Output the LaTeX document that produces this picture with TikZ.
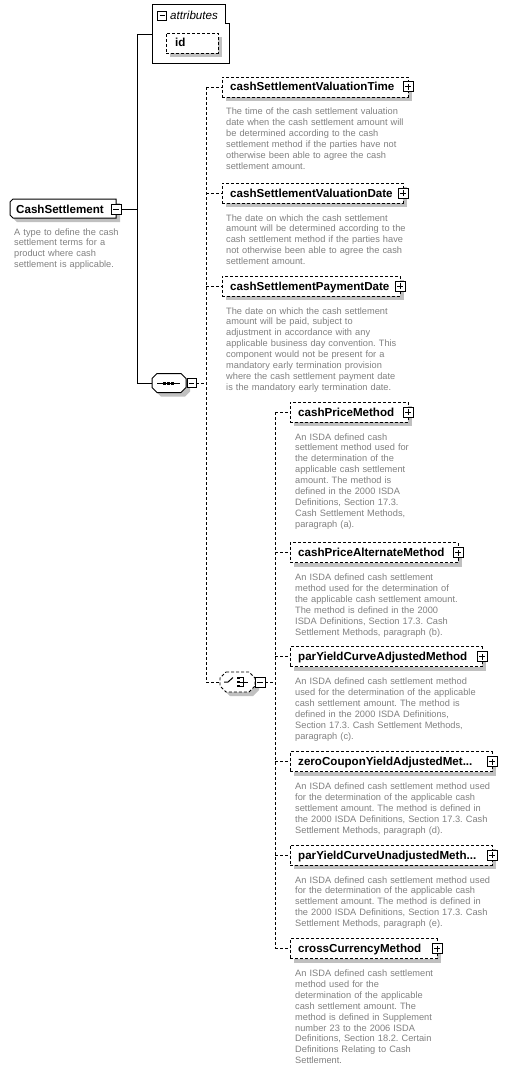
\documentclass[tikz,border=0pt]{standalone}
\usepackage{fontspec}
\setmainfont{Liberation Sans}
\definecolor{descgrey}{RGB}{128,128,128}
\definecolor{shgrey}{RGB}{192,192,192}
\tikzset{
  conn/.style={line width=1pt},
  dconn/.style={line width=0.9pt, dash pattern=on 3pt off 2pt},
  elbox/.style={draw, line width=0.9pt, dash pattern=on 3pt off 2pt, fill=white, minimum height=20pt, inner sep=0pt, outer sep=0pt},
  pmbox/.style={draw, line width=1pt, fill=white, minimum size=10pt, inner sep=0pt, outer sep=0pt},
  titletext/.style={font=\fontsize{11.6}{13}\selectfont\bfseries, anchor=base west, inner sep=0pt},
  desctext/.style={font=\fontsize{9.25}{10.9}\selectfont, text=descgrey, anchor=base west, inner sep=0pt, text width=230pt, align=left},
  anchorbox/.style={inner sep=0pt, outer sep=0pt}
}
\newcommand\elem[5]{%
  \fill[shgrey] (#2+4,#3-6) rectangle (#4+4,#3+14);
  \node[elbox, anchor=west, minimum width={(#4-#2)*1pt}] (#1) at (#2,#3) {};
  \node[pmbox] (#1p) at (#4,#3) {};
  \draw[line width=1pt] ([xshift=-3pt]#1p.center) -- ([xshift=3pt]#1p.center);
  \draw[line width=1pt] ([yshift=-3pt]#1p.center) -- ([yshift=3pt]#1p.center);
  \node[titletext] (#1t) at (#2+8,#3+4) {#5};
}
\begin{document}
\frenchspacing
\begin{tikzpicture}[x=1pt,y=-1pt]
\useasboundingbox (0,0) rectangle (506,1070);

% ---------- attributes box ----------
\node[anchorbox, minimum width=77pt, minimum height=59pt] (attr) at (190.5,34.5) {};
\draw[line width=1pt, fill=white] (152,5) -- (225,5) -- (225,24) -- (229,24) -- (229,64) -- (152,64) -- cycle;
\node[pmbox, minimum size=9pt] (attrm) at (162,16) {};
\draw[line width=1pt] ([xshift=-2.5pt]attrm.center) -- ([xshift=2.5pt]attrm.center);
\node[font=\fontsize{11.6}{12}\selectfont\itshape, anchor=base west, inner sep=0pt] (attrt) at (170,20) {attributes};
\fill[shgrey] (170,37) rectangle (222,57);
\node[elbox, minimum width=52pt] (idb) at (192,43) {};
\node[titletext] (idt) at (175,47) {id};

% ---------- CashSettlement ----------
\node[anchorbox, minimum width=106pt, minimum height=19pt] (cs) at (63,208.5) {};
\fill[shgrey] (17,203) -- (120,203) -- (120,222) -- (17,222) -- (14,219) -- (14,206) -- cycle;
\draw[line width=1pt, fill=white] (13,199) -- (116,199) -- (116,218) -- (13,218) -- (10,215) -- (10,202) -- cycle;
\node[pmbox] (csm) at (116,209) {};
\draw[line width=1pt] ([xshift=-3pt]csm.center) -- ([xshift=3pt]csm.center);
\node[titletext] (cst) at (16,213) {CashSettlement};
\node[desctext] (csd) at (14,235) {A type to define the cash\\settlement terms for a\\product where cash\\settlement is applicable.};

% ---------- trunk ----------
\coordinate (j1) at (137,209);
\coordinate (tA) at (137,34.5);
\coordinate (tB) at (137,383);
\draw[conn] (csm.east) -- (j1);
\draw[conn] (attr.west) -- (tA) -- (tB);

% ---------- sequence compositor ----------
\node[anchorbox, minimum width=34pt, minimum height=19pt] (seq) at (169,383) {};
\fill[shgrey] (161,377.5) -- (185,377.5) -- (190,382.5) -- (190,391.5) -- (185,396.5) -- (161,396.5) -- (156,391.5) -- (156,382.5) -- cycle;
\draw[line width=1pt, fill=white] (157,373.5) -- (181,373.5) -- (186,378.5) -- (186,387.5) -- (181,392.5) -- (157,392.5) -- (152,387.5) -- (152,378.5) -- cycle;
\draw[line width=1pt] (157,383) -- (180,383);
\fill (163,381.5) rectangle (166,384.5);
\fill (167,381.5) rectangle (170,384.5);
\fill (171,381.5) rectangle (174,384.5);
\node[pmbox, minimum size=9pt] (seqm) at (191.5,383) {};
\draw[line width=1pt] ([xshift=-2.5pt]seqm.center) -- ([xshift=2.5pt]seqm.center);
\draw[conn] (tB) -- (seq.west);

% ---------- sequence children ----------
\elem{vt}{222}{87}{408}{cashSettlementValuationTime}
\node[desctext] (vtd) at (226,115) {The time of the cash settlement valuation\\date when the cash settlement amount will\\be determined according to the cash\\settlement method if the parties have not\\otherwise been able to agree the cash\\settlement amount.};
\elem{vd}{222}{193}{403}{cashSettlementValuationDate}
\node[desctext] (vdd) at (226,221) {The date on which the cash settlement\\amount will be determined according to the\\cash settlement method if the parties have\\not otherwise been able to agree the cash\\settlement amount.};
\elem{pd}{222}{286}{400}{cashSettlementPaymentDate}
\node[desctext] (pdd) at (226,314) {The date on which the cash settlement\\amount will be paid, subject to\\adjustment in accordance with any\\applicable business day convention. This\\component would not be present for a\\mandatory early termination provision\\where the cash settlement payment date\\is the mandatory early termination date.};

\coordinate (sv1) at (206,87);
\coordinate (sv2) at (206,682);
\draw[dconn] (sv1) -- (sv2);
\draw[dconn] (vt.west -| sv1) -- (vt.west);
\draw[dconn] (vd.west -| sv1) -- (vd.west);
\draw[dconn] (pd.west -| sv1) -- (pd.west);
\draw[dconn] (seqm.east) -- (seqm.east -| sv1);

% ---------- choice compositor ----------
\node[anchorbox, minimum width=35pt, minimum height=20pt] (cho) at (237.5,682) {};
\fill[shgrey] (230,676) -- (253,676) -- (259,682) -- (259,690) -- (253,696) -- (230,696) -- (224,690) -- (224,682) -- cycle;
\draw[dconn, fill=white] (226,672) -- (249,672) -- (255,678) -- (255,686) -- (249,692) -- (226,692) -- (220,686) -- (220,678) -- cycle;
\draw[line width=1pt] (224,682) -- (228,682) -- (233,677.5);
\fill (236.5,676.5) rectangle (239.5,679);
\fill (236.5,680.5) rectangle (239.5,683);
\fill (236.5,684.5) rectangle (239.5,687);
\draw[line width=0.9pt] (239.5,677.5) -- (243.5,677.5) -- (243.5,686) -- (239.5,686);
\draw[line width=0.9pt] (239.5,682) -- (248,682);
\node[pmbox] (chom) at (260,682) {};
\draw[line width=1pt] ([xshift=-3pt]chom.center) -- ([xshift=3pt]chom.center);
\draw[dconn] (sv2) -- (cho.west);

% ---------- choice children ----------
\elem{cp}{290}{412}{408}{cashPriceMethod}
\node[desctext] (cpd) at (295,440) {An ISDA defined cash\\settlement method used for\\the determination of the\\applicable cash settlement\\amount. The method is\\defined in the 2000 ISDA\\Definitions, Section 17.3.\\Cash Settlement Methods,\\paragraph (a).};
\elem{ca}{290}{552.5}{458}{cashPriceAlternateMethod}
\node[desctext] (cad) at (295,580.5) {An ISDA defined cash settlement\\method used for the determination of\\the applicable cash settlement amount.\\The method is defined in the 2000\\ISDA Definitions, Section 17.3. Cash\\Settlement Methods, paragraph (b).};
\elem{pa}{290}{656.5}{482}{parYieldCurveAdjustedMethod}
\node[desctext] (pad) at (295,684.5) {An ISDA defined cash settlement method\\used for the determination of the applicable\\cash settlement amount. The method is\\defined in the 2000 ISDA Definitions,\\Section 17.3. Cash Settlement Methods,\\paragraph (c).};
\elem{zc}{290}{761.5}{492}{zeroCouponYieldAdjustedMet...}
\node[desctext] (zcd) at (295,789.5) {An ISDA defined cash settlement method used\\for the determination of the applicable cash\\settlement amount. The method is defined in\\the 2000 ISDA Definitions, Section 17.3. Cash\\Settlement Methods, paragraph (d).};
\elem{pu}{290}{855}{492}{parYieldCurveUnadjustedMeth...}
\node[desctext] (pud) at (295,883) {An ISDA defined cash settlement method used\\for the determination of the applicable cash\\settlement amount. The method is defined in\\the 2000 ISDA Definitions, Section 17.3. Cash\\Settlement Methods, paragraph (e).};
\elem{cc}{290}{948.5}{437}{crossCurrencyMethod}
\node[desctext] (ccd) at (295,976.5) {An ISDA defined cash settlement\\method used for the\\determination of the applicable\\cash settlement amount. The\\method is defined in Supplement\\number 23 to the 2006 ISDA\\Definitions, Section 18.2. Certain\\Definitions Relating to Cash\\Settlement.};

\coordinate (cv1) at (275,412);
\coordinate (cv2) at (275,948.5);
\draw[dconn] (cv1) -- (cv2);
\draw[dconn] (cp.west -| cv1) -- (cp.west);
\draw[dconn] (ca.west -| cv1) -- (ca.west);
\draw[dconn] (pa.west -| cv1) -- (pa.west);
\draw[dconn] (zc.west -| cv1) -- (zc.west);
\draw[dconn] (pu.west -| cv1) -- (pu.west);
\draw[dconn] (cc.west -| cv1) -- (cc.west);
\draw[dconn] (chom.east) -- (chom.east -| cv1);
\end{tikzpicture}
\end{document}
